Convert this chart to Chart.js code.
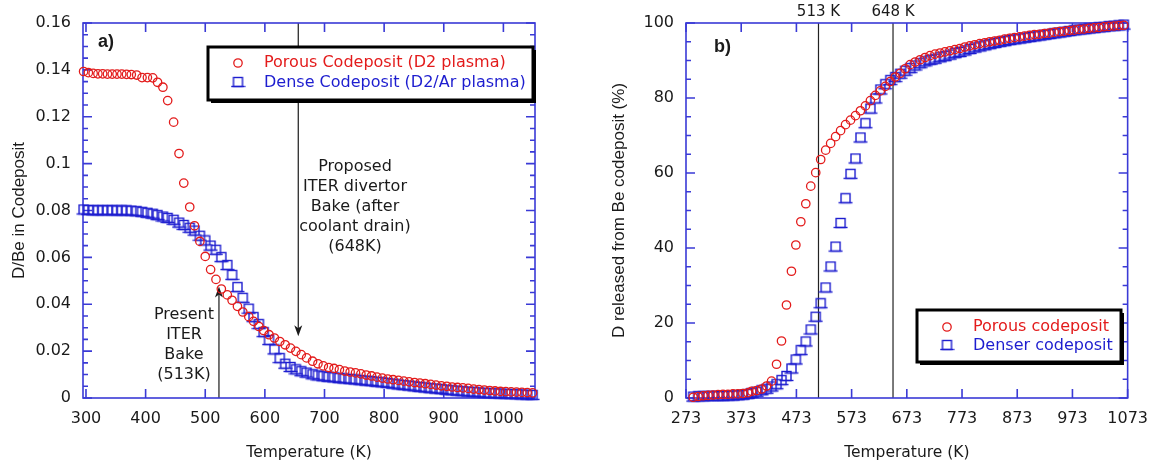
<!DOCTYPE html>
<html>
<head>
<meta charset="utf-8">
<script src="https://cdn.jsdelivr.net/npm/chart.js@4.4.1/dist/chart.umd.min.js"></script>
<style>
  html, body { margin: 0; padding: 0; background: #fff; }
  #wrap { position: relative; width: 1159px; height: 468px; }
  canvas { position: absolute; top: 0; }
  #chartA { left: 0; }
  #chartB { left: 580px; }
</style>
</head>
<body>
<div id="wrap">
  <canvas id="chartA" width="580" height="468"></canvas>
  <canvas id="chartB" width="579" height="468"></canvas>
</div>
<script>
// a) D/Be retained in the codeposit vs temperature (K)
var tempA = [296, 304, 312, 320, 328, 336, 344, 352, 360, 368, 376, 385,
    394, 403, 412, 420, 429, 437, 447, 456, 464, 474,
    482, 491, 500, 509, 518, 527, 537, 545, 554, 563,
    573, 581, 590, 598, 607, 616, 625, 634, 643, 652,
    661, 670, 680, 689, 698, 707, 716, 725, 734, 743,
    752, 761, 770, 779, 788, 797, 806, 815, 824, 833,
    842, 851, 860, 869, 878, 887, 896, 905, 914, 923,
    932, 941, 950, 959, 968, 977, 986, 995, 1004, 1013,
    1022, 1031, 1040, 1049];
var porousA = [0.1393, 0.1388, 0.1385, 0.1383, 0.1383, 0.1382, 0.1382, 0.1382, 0.1382, 0.1381, 0.1380, 0.1378,
    0.1367, 0.1367, 0.1366, 0.1347, 0.1326, 0.1269, 0.1177, 0.1043, 0.0917, 0.0815,
    0.0735, 0.0668, 0.0604, 0.0548, 0.0506, 0.0465, 0.0440, 0.0417, 0.0391, 0.0367,
    0.0347, 0.0327, 0.0305, 0.0288, 0.0270, 0.0256, 0.0241, 0.0227, 0.0213, 0.0199,
    0.0185, 0.0171, 0.0157, 0.0146, 0.0137, 0.0130, 0.0126, 0.0121, 0.0115, 0.0111,
    0.0107, 0.0103, 0.0098, 0.0094, 0.0089, 0.0085, 0.0081, 0.0078, 0.0075, 0.0072,
    0.0069, 0.0066, 0.0064, 0.0061, 0.0058, 0.0055, 0.0052, 0.0050, 0.0047, 0.0045,
    0.0043, 0.0041, 0.0038, 0.0036, 0.0034, 0.0032, 0.0030, 0.0028, 0.0027, 0.0026,
    0.0025, 0.0024, 0.0023, 0.0022];
var denseA = [0.0800, 0.0798, 0.0797, 0.0797, 0.0797, 0.0797, 0.0797, 0.0796, 0.0796, 0.0796, 0.0795, 0.0793,
    0.0790, 0.0786, 0.0782, 0.0776, 0.0770, 0.0764, 0.0756, 0.0744, 0.0734, 0.0722,
    0.0710, 0.0688, 0.0668, 0.0646, 0.0628, 0.0597, 0.0563, 0.0521, 0.0469, 0.0423,
    0.0377, 0.0341, 0.0311, 0.0277, 0.0243, 0.0203, 0.0166, 0.0142, 0.0128, 0.0118,
    0.0110, 0.0104, 0.0097, 0.0092, 0.0089, 0.0086, 0.0084, 0.0081, 0.0079, 0.0077,
    0.0075, 0.0072, 0.0070, 0.0068, 0.0065, 0.0063, 0.0060, 0.0057, 0.0054, 0.0051,
    0.0049, 0.0046, 0.0043, 0.0041, 0.0038, 0.0036, 0.0034, 0.0031, 0.0029, 0.0027,
    0.0025, 0.0023, 0.0022, 0.0020, 0.0018, 0.0017, 0.0016, 0.0015, 0.0014, 0.0013,
    0.0012, 0.0011, 0.0010, 0.0009];
var xTicksA = [300, 400, 500, 600, 700, 800, 900, 1000];
var yTicksA = [0, 0.02, 0.04, 0.06, 0.08, 0.1, 0.12, 0.14, 0.16];

// b) D released from the Be codeposit (%) vs temperature (K)
var tempB = [286, 295, 304, 313, 322, 331, 340, 349, 358, 367, 376, 385,
    392, 401, 410, 419, 428, 437, 446, 455, 464, 472,
    481, 490, 499, 508, 517, 526, 535, 544, 553, 562,
    571, 580, 589, 598, 607, 616, 625, 634, 643, 652,
    661, 670, 679, 688, 697, 706, 715, 724, 733, 742,
    751, 760, 769, 778, 787, 796, 805, 814, 823, 832,
    841, 850, 859, 868, 877, 886, 895, 904, 913, 922,
    931, 940, 949, 958, 967, 976, 985, 994, 1003, 1012,
    1021, 1030, 1039, 1048, 1057, 1066];
var porousB = [0.2, 0.4, 0.6, 0.7, 0.8, 0.9, 1.0, 1.0, 1.1, 1.1, 1.2, 1.4,
    1.8, 2.0, 2.4, 3.2, 4.5, 9.0, 15.2, 24.8, 33.8, 40.8,
    47.0, 51.8, 56.5, 60.1, 63.6, 66.1, 67.9, 69.7, 71.3, 72.9,
    74.1, 75.3, 76.6, 77.9, 79.3, 80.7, 81.9, 83.1, 84.4, 85.6,
    86.6, 87.8, 88.9, 89.6, 90.2, 90.8, 91.3, 91.7, 92.0, 92.3,
    92.6, 92.9, 93.2, 93.6, 93.9, 94.2, 94.5, 94.7, 95.0, 95.2,
    95.4, 95.7, 95.9, 96.1, 96.3, 96.5, 96.7, 96.9, 97.0, 97.2,
    97.3, 97.5, 97.7, 97.8, 98.0, 98.1, 98.3, 98.4, 98.6, 98.7,
    98.8, 99.0, 99.1, 99.2, 99.3, 99.4];
var denseB = [0.1, 0.2, 0.2, 0.3, 0.3, 0.3, 0.3, 0.4, 0.4, 0.5, 0.6, 0.8,
    1.1, 1.4, 1.8, 2.2, 2.8, 3.4, 4.5, 5.6, 7.6, 10.0,
    12.5, 14.8, 18.0, 21.4, 25.0, 29.2, 34.8, 40.1, 46.4, 53.0,
    59.5, 63.6, 69.2, 73.0, 76.9, 79.6, 82.0, 83.4, 84.5, 85.3,
    86.2, 87.0, 87.7, 88.4, 89.0, 89.5, 89.9, 90.2, 90.6, 90.9,
    91.3, 91.7, 92.0, 92.4, 92.8, 93.2, 93.5, 93.8, 94.1, 94.4,
    94.7, 94.9, 95.2, 95.4, 95.6, 95.8, 96.0, 96.2, 96.4, 96.6,
    96.8, 97.0, 97.2, 97.4, 97.6, 97.8, 98.0, 98.1, 98.3, 98.4,
    98.6, 98.7, 98.9, 99.0, 99.1, 99.3];
var xTicksB = [273, 373, 473, 573, 673, 773, 873, 973, 1073];
var yTicksB = [0, 20, 40, 60, 80, 100];
var bakeTemps = [513, 648];

var AXIS = "#3a3ad6";
var RED = "#e31b1b";
var BLUE = "#1d1dcf";
var INK = "#1a1a1a";
var SANS = "'DejaVu Sans', sans-serif";
var ARIAL = "'Liberation Sans', Arial, sans-serif";

// open square with the bottom edge run out a little, like the original symbol
function squareGlyph(color) {
    var c = document.createElement("canvas");
    c.width = 15;
    c.height = 14;
    var g = c.getContext("2d");
    g.strokeStyle = color;
    g.lineWidth = 1.4;
    g.strokeRect(3, 1.5, 9, 9);
    g.beginPath();
    g.moveTo(0.5, 10.5);
    g.lineTo(14.5, 10.5);
    g.stroke();
    return c;
}

function toPoints(xs, ys) {
    return xs.map(function (x, i) {
        return {x: x, y: ys[i]};
    });
}

function drawArrow(ctx, x, yFrom, yTip) {
    var dir = yTip > yFrom ? 1 : -1;
    ctx.beginPath();
    ctx.moveTo(x, yFrom);
    ctx.lineTo(x, yTip - dir * 6);
    ctx.stroke();
    ctx.beginPath();
    ctx.moveTo(x, yTip);
    ctx.lineTo(x - 4, yTip - dir * 11);
    ctx.lineTo(x, yTip - dir * 8);
    ctx.lineTo(x + 4, yTip - dir * 11);
    ctx.closePath();
    ctx.fill();
}

function drawLegend(chart, box) {
    var ctx = chart.ctx;
    ctx.save();
    ctx.fillStyle = "#000";
    ctx.fillRect(box.x + 3, box.y + 3, box.w, box.h);
    ctx.fillStyle = "#fff";
    ctx.fillRect(box.x, box.y, box.w, box.h);
    ctx.strokeStyle = "#000";
    ctx.lineWidth = 3;
    ctx.strokeRect(box.x, box.y, box.w, box.h);
    ctx.font = "16px " + SANS;
    ctx.textBaseline = "middle";
    ctx.textAlign = "left";
    chart.data.datasets.forEach(function (ds, i) {
        var y = box.rows[i];
        ctx.strokeStyle = ds.markColor;
        ctx.fillStyle = "rgba(0,0,0,0)";
        ctx.lineWidth = ds.pointBorderWidth;
        Chart.helpers.drawPoint(ctx, {
            pointStyle: ds.pointStyle,
            radius: ds.pointRadius,
            borderWidth: ds.pointBorderWidth,
            rotation: 0
        }, box.markX, y);
        ctx.fillStyle = ds.markColor;
        ctx.fillText(ds.label, box.textX, y);
    });
    ctx.restore();
}

// per-panel frame ticks and notes
var panels = {
    chartA: {
        xTicks: xTicksA, yMinor: 0.005, yMajor: 0.02,
        tag: {text: "a)", x: 98, y: 42},
        legend: {x: 208, y: 47, w: 325, h: 53, markX: 238, textX: 264, rows: [63, 83]},
        notes: function (chart) {
            var ctx = chart.ctx, xs = chart.scales.x, ys = chart.scales.y;
            ctx.save();
            ctx.strokeStyle = INK;
            ctx.fillStyle = INK;
            ctx.lineWidth = 1.2;
            drawArrow(ctx, xs.getPixelForValue(656), ys.getPixelForValue(0.16), ys.getPixelForValue(0.0263));
            drawArrow(ctx, xs.getPixelForValue(523), ys.getPixelForValue(0), ys.getPixelForValue(0.0476));
            ctx.font = "16px " + SANS;
            ctx.textAlign = "center";
            ctx.textBaseline = "middle";
            ["Proposed", "ITER divertor", "Bake (after", "coolant drain)", "(648K)"].forEach(function (s, i) {
                ctx.fillText(s, 355, 167 + 20 * i);
            });
            ["Present", "ITER", "Bake", "(513K)"].forEach(function (s, i) {
                ctx.fillText(s, 184, 315 + 20 * i);
            });
            ctx.restore();
        }
    },
    chartB: {
        xTicks: xTicksB, yMinor: 5, yMajor: 20,
        tag: {text: "b)", x: 134, y: 47},
        legend: {x: 337, y: 310, w: 204, h: 52, markX: 367, textX: 393, rows: [327, 346]},
        notes: function (chart) {
            var ctx = chart.ctx, xs = chart.scales.x, a = chart.chartArea;
            ctx.save();
            ctx.strokeStyle = "#222";
            ctx.fillStyle = INK;
            ctx.lineWidth = 1.2;
            ctx.font = "15px " + SANS;
            ctx.textAlign = "center";
            ctx.textBaseline = "middle";
            bakeTemps.forEach(function (t) {
                var px = xs.getPixelForValue(t);
                ctx.beginPath();
                ctx.moveTo(px, a.top);
                ctx.lineTo(px, a.bottom);
                ctx.stroke();
                ctx.fillText(t + " K", px, 12);
            });
            ctx.restore();
        }
    }
};

var framePlugin = {
    id: "frame",
    beforeDatasetsDraw: function (chart) {
        var p = panels[chart.canvas.id];
        var ctx = chart.ctx, a = chart.chartArea;
        var xs = chart.scales.x, ys = chart.scales.y;
        p.notes(chart);
        ctx.save();
        ctx.strokeStyle = AXIS;
        ctx.lineWidth = 1.6;
        ctx.strokeRect(a.left, a.top, a.right - a.left, a.bottom - a.top);
        ctx.beginPath();
        p.xTicks.forEach(function (v) {
            var px = xs.getPixelForValue(v);
            ctx.moveTo(px, a.bottom);
            ctx.lineTo(px, a.bottom - 9);
            ctx.moveTo(px, a.top);
            ctx.lineTo(px, a.top + 9);
        });
        var n = Math.round((ys.max - ys.min) / p.yMinor);
        for (var i = 0; i <= n; i++) {
            var v = ys.min + i * p.yMinor;
            var py = ys.getPixelForValue(v);
            var q = v / p.yMajor;
            var len = Math.abs(q - Math.round(q)) < 1e-6 ? 9 : 5;
            ctx.moveTo(a.left, py);
            ctx.lineTo(a.left + len, py);
            ctx.moveTo(a.right, py);
            ctx.lineTo(a.right - len, py);
        }
        ctx.stroke();
        ctx.fillStyle = INK;
        ctx.font = "bold 18px " + ARIAL;
        ctx.textAlign = "left";
        ctx.textBaseline = "middle";
        ctx.fillText(p.tag.text, p.tag.x, p.tag.y);
        ctx.restore();
    },
    afterDatasetsDraw: function (chart) {
        drawLegend(chart, panels[chart.canvas.id].legend);
    }
};

function seriesSet(label, data, color, square) {
    return {
        label: label,
        data: data,
        markColor: color,
        borderColor: color,
        backgroundColor: "rgba(0,0,0,0)",
        pointBackgroundColor: "rgba(0,0,0,0)",
        pointStyle: square ? squareGlyph(color) : "circle",
        pointRadius: square ? 6 : 4.2,
        pointBorderWidth: square ? 1.4 : 1.3,
        showLine: false,
        clip: false
    };
}

function makeChart(id, datasets, xRange, xTicks, yRange, yTicks, yTitle, yTitlePad, padRight, yWidth) {
    return new Chart(document.getElementById(id), {
        type: "scatter",
        data: {datasets: datasets},
        plugins: [framePlugin],
        options: {
            responsive: false,
            animation: false,
            events: [],
            devicePixelRatio: 1,
            layout: {padding: {left: 0, top: 23, right: padRight, bottom: 0}},
            plugins: {legend: {display: false}, tooltip: {enabled: false}},
            scales: {
                x: {
                    type: "linear",
                    min: xRange[0],
                    max: xRange[1],
                    grid: {display: false, drawTicks: false},
                    border: {display: false},
                    afterBuildTicks: function (s) {
                        s.ticks = xTicks.map(function (v) { return {value: v}; });
                    },
                    afterFit: function (s) { s.height = 70; },
                    ticks: {color: INK, font: {family: SANS, size: 16}, padding: 11, maxRotation: 0,
                        callback: function (v) { return String(v); }},
                    title: {display: true, text: "Temperature (K)", color: INK,
                        font: {family: SANS, size: 15.5}, padding: {top: 0, bottom: 6}}
                },
                y: {
                    type: "linear",
                    min: yRange[0],
                    max: yRange[1],
                    grid: {display: false, drawTicks: false},
                    border: {display: false},
                    afterBuildTicks: function (s) {
                        s.ticks = yTicks.map(function (v) { return {value: v}; });
                    },
                    afterFit: function (s) { s.width = yWidth; },
                    ticks: {color: INK, font: {family: SANS, size: 16}, padding: 12,
                        callback: function (v) { return String(Math.round(v * 1000) / 1000); }},
                    title: {display: true, text: yTitle, color: INK,
                        font: {family: ARIAL, size: 17}, padding: {top: yTitlePad, bottom: 0}}
                }
            }
        }
    });
}

makeChart("chartA", [
    seriesSet("Porous Codeposit (D2 plasma)", toPoints(tempA, porousA), RED, false),
    seriesSet("Dense Codeposit (D2/Ar plasma)", toPoints(tempA, denseA), BLUE, true)
], [295, 1053], xTicksA, [0, 0.16], yTicksA, "D/Be in Codeposit", 9, 45, 83);

makeChart("chartB", [
    seriesSet("Porous codeposit", toPoints(tempB, porousB), RED, false),
    seriesSet("Denser codeposit", toPoints(tempB, denseB), BLUE, true)
], [273, 1073], xTicksB, [0, 100], yTicksB, "D released from Be codeposit (%)", 29, 22, 106);
</script>
</body>
</html>
